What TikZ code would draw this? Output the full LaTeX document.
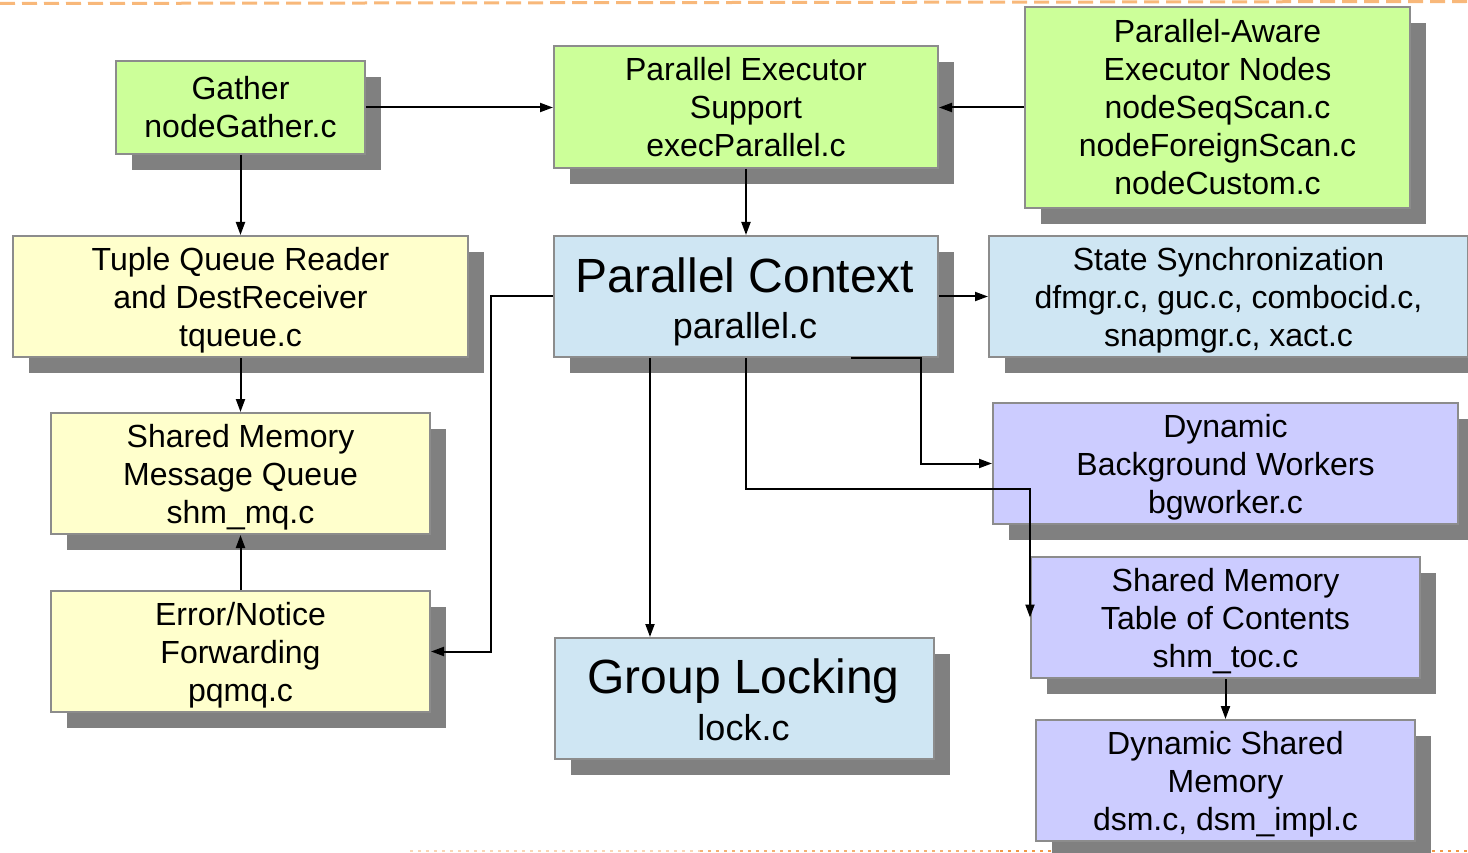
\documentclass[tikz,border=0pt]{standalone}
\usepackage{fontspec}
\setmainfont{Liberation Sans}
\usetikzlibrary{arrows.meta,shadows,calc}
\definecolor{bgreen}{RGB}{204,255,153}
\definecolor{byellow}{RGB}{255,255,204}
\definecolor{bblue}{RGB}{207,230,243}
\definecolor{bpurple}{RGB}{204,204,255}
\definecolor{bborder}{RGB}{140,140,140}
\definecolor{shadowgray}{RGB}{128,128,128}
\definecolor{dashorange}{RGB}{248,184,122}
\definecolor{dotorange}{RGB}{240,150,70}
\tikzset{
  box/.style={draw=bborder, line width=2pt, anchor=north west, align=center,
    inner sep=0pt, font=\fontsize{32}{38}\selectfont,
    drop shadow={shadow xshift=16pt, shadow yshift=-16pt, fill=shadowgray, opacity=1}},
  boxtext/.style={align=center, inner sep=0pt, font=\fontsize{32}{38}\selectfont},
  conn/.style={line width=2pt, -{Triangle[length=13pt,width=9pt]}},
  bigtitle/.style={anchor=base, inner sep=0pt, font=\fontsize{48}{52}\selectfont},
  bigfile/.style={anchor=base, inner sep=0pt, font=\fontsize{36}{40}\selectfont}
}
\begin{document}
\begin{tikzpicture}[x=1pt,y=-1pt]
\useasboundingbox (0,0) rectangle (1468,853);
% decorative lines
\draw[dashorange, line width=3pt, dash pattern=on 15pt off 7pt] (0,3.5) -- (1468,1.5);
\draw[dotorange!40, line width=2.5pt, dash pattern=on 2.5pt off 5.5pt] (410,851) -- (700,851);
\draw[dotorange!75, line width=2.5pt, dash pattern=on 2.5pt off 5.5pt] (700,851) -- (1000,851);
\draw[dotorange, line width=2.5pt, dash pattern=on 2.5pt off 5.5pt] (1000,851) -- (1468,851);

% boxes
\node[box, fill=bgreen, minimum width=249pt, minimum height=93pt] (gather) at (115,60) {Gather\\nodeGather.c};
\node[box, fill=bgreen, minimum width=384pt, minimum height=122pt] (pes) at (553,45) {Parallel Executor\\Support\\execParallel.c};
\node[box, fill=bgreen, minimum width=385pt, minimum height=201pt] (pa) at (1024,6) {Parallel-Aware\\Executor Nodes\\nodeSeqScan.c\\nodeForeignScan.c\\nodeCustom.c};
\node[box, fill=byellow, minimum width=455pt, minimum height=121pt] (tq) at (12,235) {};
\node[box, fill=bblue, minimum width=384pt, minimum height=121pt] (pc) at (553,235) {};
\node[box, fill=bblue, minimum width=479pt, minimum height=121pt] (ss) at (988,235) {};
\node[box, fill=byellow, minimum width=379pt, minimum height=121pt] (smmq) at (50,412) {};
\node[box, fill=byellow, minimum width=379pt, minimum height=121pt] (err) at (50,590) {};
\node[box, fill=bpurple, minimum width=465pt, minimum height=121pt] (dbw) at (992,402) {};
\node[box, fill=bpurple, minimum width=389pt, minimum height=121pt] (toc) at (1030,556) {};
\node[box, fill=bblue, minimum width=379pt, minimum height=121pt] (gl) at (554,637) {};
\node[box, fill=bpurple, minimum width=379pt, minimum height=121pt] (dsm) at (1035,719) {};

% texts of the 121-high boxes
\node[boxtext] (tqt) at ($(tq.center)+(0,4)$) {Tuple Queue Reader\\and DestReceiver\\tqueue.c};
\node[boxtext] (sst) at ($(ss.center)+(0,4)$) {State Synchronization\\dfmgr.c, guc.c, combocid.c,\\snapmgr.c, xact.c};
\node[boxtext] (smmqt) at ($(smmq.center)+(0,4)$) {Shared Memory\\Message Queue\\shm\_mq.c};
\node[boxtext] (errt) at ($(err.center)+(0,4)$) {Error/Notice\\Forwarding\\pqmq.c};
\node[boxtext] (dbwt) at ($(dbw.center)+(0,4)$) {Dynamic\\Background Workers\\bgworker.c};
\node[boxtext] (toct) at ($(toc.center)+(0,4)$) {Shared Memory\\Table of Contents\\shm\_toc.c};
\node[boxtext] (dsmt) at ($(dsm.center)+(0,4)$) {Dynamic Shared\\Memory\\dsm.c, dsm\_impl.c};

% two-size texts
\node[bigtitle] (pctitle) at (745,292) {Parallel Context};
\node[bigfile] (pcfile) at (745,338) {parallel.c};
\node[bigtitle] (gltitle) at (743.5,693) {Group Locking};
\node[bigfile] (glfile) at (743.5,740) {lock.c};

% connectors
\draw[conn] (gather.east) -- (gather.east -| pes.west);
\draw[conn] (pa.west) -- (pa.west -| pes.east);
\draw[conn] (gather.south) -- (tq.north);
\draw[conn] (pes.south) -- (pc.north);
\draw[conn] (tq.south) -- (smmq.north);
\draw[conn] (err.north) -- (smmq.south);
\draw[conn] (pc.west) -- ++(-62,0) |- (err.east);
\draw[conn] (pc.east) -- (ss.west);
\coordinate (glsrc) at ($(pc.south west)+(97,0)$);
\draw[conn] (glsrc) -- (glsrc |- gl.north);
\coordinate (dbwsrc) at ($(pc.south west)+(298,0)$);
\draw[conn] (dbwsrc) -- ++(70,0) |- (dbw.west);
\draw[conn] (pc.south) -- ++(0,131) -| (toc.west);
\draw[conn] (toc.south) -- (dsm.north);
\end{tikzpicture}
\end{document}
